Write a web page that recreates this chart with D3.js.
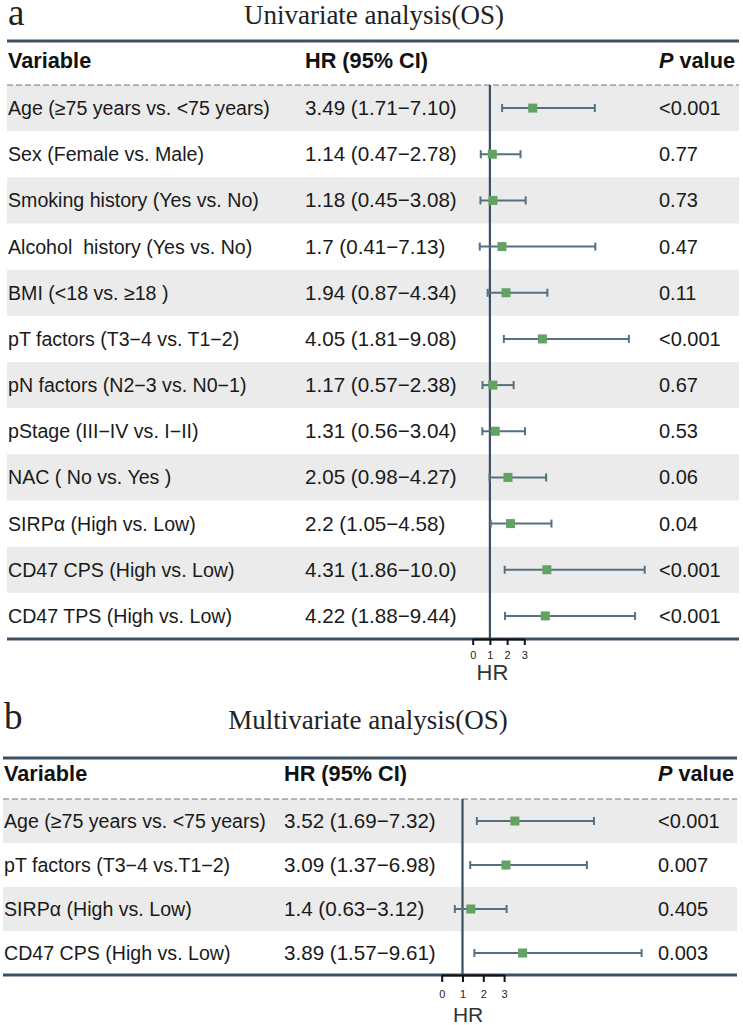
<!DOCTYPE html>
<html>
<head>
<meta charset="utf-8">
<script src="https://cdn.jsdelivr.net/npm/d3@7"></script>
<style>
  html, body { margin: 0; padding: 0; background: #fff; }
  svg { display: block; }
  text { white-space: pre; }
</style>
</head>
<body>
<div id="chart"></div>
<script>
// ---------- data ----------
const uniVariables = [
  "Age (≥75 years vs. <75 years)",
  "Sex (Female vs. Male)",
  "Smoking history (Yes vs. No)",
  "Alcohol  history (Yes vs. No)",
  "BMI (<18 vs. ≥18 )",
  "pT factors (T3−4 vs. T1−2)",
  "pN factors (N2−3 vs. N0−1)",
  "pStage (III−IV vs. I−II)",
  "NAC ( No vs. Yes )",
  "SIRPα (High vs. Low)",
  "CD47 CPS (High vs. Low)",
  "CD47 TPS (High vs. Low)"
];
const uniHR   = [3.49, 1.14, 1.18, 1.7, 1.94, 4.05, 1.17, 1.31, 2.05, 2.2, 4.31, 4.22];
const uniLow  = [1.71, 0.47, 0.45, 0.41, 0.87, 1.81, 0.57, 0.56, 0.98, 1.05, 1.86, 1.88];
const uniHigh = [7.10, 2.78, 3.08, 7.13, 4.34, 9.08, 2.38, 3.04, 4.27, 4.58, 10.0, 9.44];
const uniHRLabels = [
  "3.49 (1.71−7.10)", "1.14 (0.47−2.78)", "1.18 (0.45−3.08)", "1.7 (0.41−7.13)",
  "1.94 (0.87−4.34)", "4.05 (1.81−9.08)", "1.17 (0.57−2.38)", "1.31 (0.56−3.04)",
  "2.05 (0.98−4.27)", "2.2 (1.05−4.58)", "4.31 (1.86−10.0)", "4.22 (1.88−9.44)"
];
const uniP = ["<0.001", "0.77", "0.73", "0.47", "0.11", "<0.001", "0.67", "0.53", "0.06", "0.04", "<0.001", "<0.001"];

const multiVariables = [
  "Age (≥75 years vs. <75 years)",
  "pT factors (T3−4 vs.T1−2)",
  "SIRPα (High vs. Low)",
  "CD47 CPS (High vs. Low)"
];
const multiHR   = [3.52, 3.09, 1.4, 3.89];
const multiLow  = [1.69, 1.37, 0.63, 1.57];
const multiHigh = [7.32, 6.98, 3.12, 9.61];
const multiHRLabels = ["3.52 (1.69−7.32)", "3.09 (1.37−6.98)", "1.4 (0.63−3.12)", "3.89 (1.57−9.61)"];
const multiP = ["<0.001", "0.007", "0.405", "0.003"];

const axisTicks = [0, 1, 2, 3];
const headers = ["Variable", "HR (95% CI)"];
const titles = ["Univariate analysis(OS)", "Multivariate analysis(OS)"];
const panelLetters = ["a", "b"];

// ---------- drawing ----------
const W = 743, H = 1025;
const svg = d3.select("#chart").append("svg").attr("width", W).attr("height", H);

const LINE = "#3b5064";
const CI = "#557080";
const SQ = "#62a262";
const BAND = "#ebebeb";
const SANS = "'Liberation Sans', Arial, Helvetica, sans-serif";
const SERIF = "'Liberation Serif', 'Times New Roman', serif";

function drawPanel(g, d, c) {
  const n = d.vars.length;
  const rows = d.vars.map((v, i) => ({ v, hr: d.hr[i], lo: d.lo[i], hi: d.hi[i], lab: d.labels[i], p: d.p[i], i }));
  const y = d3.scaleBand().domain(d3.range(n)).range([c.rowTop, c.rowBottom]).paddingInner(0).paddingOuter(0);
  const x = d3.scaleLinear().domain([0, 10]).range([c.x0, c.x10]);

  // letter and title
  g.append("text").attr("x", c.left + 1).attr("y", c.letterY)
    .attr("font-family", SERIF).attr("font-size", 37).attr("fill", "#222").text(d.letter);
  g.append("text").attr("x", c.titleX).attr("y", c.titleY).attr("text-anchor", "middle")
    .attr("font-family", SERIF).attr("font-size", 27).attr("fill", "#222").text(d.title);

  // bands
  g.selectAll("rect.band").data(rows.filter(r => r.i % 2 === 0)).join("rect")
    .attr("class", "band")
    .attr("x", c.left).attr("width", c.right - c.left)
    .attr("y", r => y(r.i)).attr("height", y.bandwidth())
    .attr("fill", BAND);

  // top line
  g.append("line").attr("x1", c.left).attr("x2", c.right).attr("y1", c.topLine).attr("y2", c.topLine)
    .attr("stroke", LINE).attr("stroke-width", 3);

  // headers
  g.append("text").attr("x", c.left + 1).attr("y", c.headerY).attr("font-family", SANS)
    .attr("font-size", 21.7).attr("font-weight", "bold").attr("fill", "#111").text(headers[0]);
  g.append("text").attr("x", c.hrX).attr("y", c.headerY).attr("font-family", SANS)
    .attr("font-size", 21.7).attr("font-weight", "bold").attr("fill", "#111").text(headers[1]);
  const ph = g.append("text").attr("x", c.pX).attr("y", c.headerY).attr("font-family", SANS)
    .attr("font-size", 21.7).attr("font-weight", "bold").attr("fill", "#111");
  ph.append("tspan").attr("font-style", "italic").text("P");
  ph.append("tspan").text(" value");

  // dashed line
  g.append("line").attr("x1", c.left).attr("x2", c.right).attr("y1", c.dashY).attr("y2", c.dashY)
    .attr("stroke", "#a0a0a0").attr("stroke-width", 1.3).attr("stroke-dasharray", "6,3");

  // row texts
  const rowG = g.selectAll("g.row").data(rows).join("g").attr("class", "row")
    .attr("transform", r => `translate(0,${y(r.i) + y.bandwidth() / 2 + 7})`);
  rowG.append("text").attr("x", c.left + 1).attr("font-family", SANS).attr("font-size", 19.6)
    .attr("fill", "#1a1a1a").text(r => r.v);
  rowG.append("text").attr("x", c.hrX).attr("font-family", SANS).attr("font-size", 20.6)
    .attr("fill", "#1a1a1a").text(r => r.lab);
  rowG.append("text").attr("x", c.pX).attr("font-family", SANS).attr("font-size", 20)
    .attr("fill", "#1a1a1a").text(r => r.p);

  // reference line
  g.append("line").attr("x1", x(1)).attr("x2", x(1)).attr("y1", c.dashY).attr("y2", c.rowBottom)
    .attr("stroke", LINE).attr("stroke-width", 2.2);

  // CIs
  const ci = g.selectAll("g.ci").data(rows).join("g").attr("class", "ci")
    .attr("transform", r => `translate(0,${y(r.i) + y.bandwidth() / 2})`);
  ci.append("line").attr("x1", r => x(r.lo)).attr("x2", r => x(r.hi)).attr("y1", 0).attr("y2", 0)
    .attr("stroke", CI).attr("stroke-width", 2);
  ci.append("line").attr("x1", r => x(r.lo)).attr("x2", r => x(r.lo)).attr("y1", -4).attr("y2", 4)
    .attr("stroke", CI).attr("stroke-width", 2);
  ci.append("line").attr("x1", r => x(r.hi)).attr("x2", r => x(r.hi)).attr("y1", -4).attr("y2", 4)
    .attr("stroke", CI).attr("stroke-width", 2);
  ci.append("rect").attr("x", r => x(r.hr) - 4.5).attr("y", -4.5).attr("width", 9).attr("height", 9)
    .attr("fill", SQ);

  // bottom line
  g.append("line").attr("x1", c.left).attr("x2", c.right).attr("y1", c.rowBottom).attr("y2", c.rowBottom)
    .attr("stroke", LINE).attr("stroke-width", 3);

  // axis
  const xa = d3.scaleLinear().domain([0, 3]).range([x(0), x(3)]);
  const ax = g.append("g").attr("transform", `translate(0,${c.rowBottom})`)
    .call(d3.axisBottom(xa).tickValues(axisTicks).tickFormat(d3.format("d"))
      .tickSize(c.tickLen).tickSizeOuter(0).tickPadding(c.tickPad));
  ax.select(".domain").attr("stroke", "#111").attr("stroke-width", 2.2);
  ax.selectAll(".tick line").attr("stroke", "#111").attr("stroke-width", 2);
  ax.selectAll(".tick text").attr("font-family", SANS).attr("font-size", 11).attr("fill", "#222");
  g.append("text").attr("x", x(c.hrLabelAt)).attr("y", c.hrLabelY).attr("text-anchor", "middle")
    .attr("font-family", SANS).attr("font-size", c.hrLabelSize).attr("fill", "#333").text("HR");
}

drawPanel(svg.append("g"),
  { vars: uniVariables, hr: uniHR, lo: uniLow, hi: uniHigh, labels: uniHRLabels, p: uniP, letter: panelLetters[0], title: titles[0] },
  { left: 7, right: 739, letterY: 25, titleX: 374, titleY: 24, topLine: 41, headerY: 68, dashY: 85,
    rowTop: 85, rowBottom: 639, hrX: 305, pX: 659, x0: 472.7, x10: 644.7,
    tickLen: 6, tickPad: 6, hrLabelAt: 1.15, hrLabelY: 680, hrLabelSize: 22 });

drawPanel(svg.append("g"),
  { vars: multiVariables, hr: multiHR, lo: multiLow, hi: multiHigh, labels: multiHRLabels, p: multiP, letter: panelLetters[1], title: titles[1] },
  { left: 3, right: 737, letterY: 729, titleX: 368, titleY: 729, topLine: 758, headerY: 781, dashY: 799,
    rowTop: 799, rowBottom: 975, hrX: 284, pX: 658, x0: 441.7, x10: 649.7,
    tickLen: 7, tickPad: 8, hrLabelAt: 1.27, hrLabelY: 1022, hrLabelSize: 21 });
</script>
</body>
</html>
